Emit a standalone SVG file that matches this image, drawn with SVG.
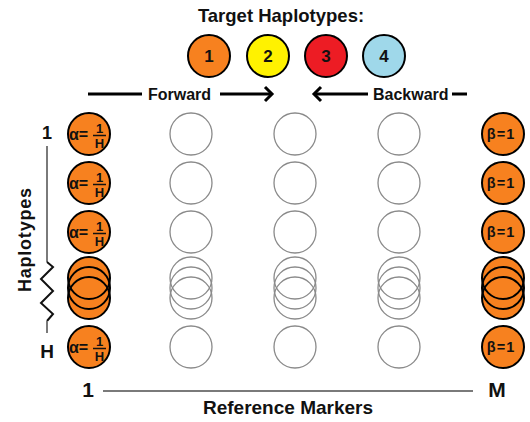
<svg xmlns="http://www.w3.org/2000/svg" width="530" height="422" viewBox="0 0 530 422">
  <style>
    text { font-family: "Liberation Sans", Arial, sans-serif; font-weight: bold; fill: #111; }
    .lbl { font-size: 16px; }
    .num { font-size: 17px; text-anchor: middle; }
    .ax { text-anchor: middle; }
    .hap { fill: #F7811F; stroke: #000; stroke-width: 2; }
    .fillonly { fill: #F7811F; stroke: none; }
    .ringonly { fill: none; stroke: #000; stroke-width: 2; }
    .empty { fill: none; stroke: #8a8a8a; stroke-width: 1.3; }
    .arrow { stroke: #000; stroke-width: 3; fill: none; stroke-linecap: butt; }
    .axis { stroke: #7a7a7a; stroke-width: 2; fill: none; }
    .a { font-size: 16px; }
    .f { font-size: 13px; text-anchor: middle; }
    .b { font-size: 14.5px; text-anchor: middle; letter-spacing: 1px; }
  </style>
  <defs>
    <g id="alpha">
      <circle class="hap" r="21"/>
      <text class="a" x="-20" y="6">α=</text>
      <text class="f" x="10.5" y="-1">1</text>
      <line x1="4" y1="1.5" x2="17" y2="1.5" stroke="#111" stroke-width="1.5"/>
      <text class="f" x="10.5" y="13.5">H</text>
    </g>
    <g id="beta">
      <circle class="hap" r="21"/>
      <text class="b" x="-2" y="5">β=1</text>
    </g>
    <g id="stackFilled">
      <circle class="fillonly" cy="-10" r="21"/>
      <circle class="fillonly" cy="0" r="21"/>
      <circle class="fillonly" cy="10" r="21"/>
      <circle class="ringonly" cy="-10" r="21"/>
      <circle class="ringonly" cy="0" r="21"/>
      <circle class="ringonly" cy="10" r="21"/>
    </g>
    <g id="stackEmpty">
      <circle class="empty" cy="-10" r="21"/>
      <circle class="empty" cy="0" r="21"/>
      <circle class="empty" cy="10" r="21"/>
    </g>
    <circle id="ring" class="empty" r="21"/>
  </defs>

  <!-- title and target haplotypes -->
  <text x="281" y="22" font-size="18.5" text-anchor="middle">Target Haplotypes:</text>
  <g id="target1"><circle cx="209" cy="56" r="21" fill="#F7811F" stroke="#000" stroke-width="2"/><text class="num" x="209" y="62">1</text></g>
  <g id="target2"><circle cx="268" cy="56" r="21" fill="#FFF200" stroke="#000" stroke-width="2"/><text class="num" x="268" y="62">2</text></g>
  <g id="target3"><circle cx="326" cy="56" r="21" fill="#ED1C24" stroke="#000" stroke-width="2"/><text class="num" x="326" y="62">3</text></g>
  <g id="target4"><circle cx="384" cy="56" r="21" fill="#9FD8EA" stroke="#000" stroke-width="2"/><text class="num" x="384" y="62">4</text></g>

  <!-- direction arrows -->
  <g id="connectors">
    <line class="arrow" x1="88" y1="94" x2="142" y2="94"/>
    <line class="arrow" x1="220" y1="94" x2="272" y2="94"/>
    <polyline class="arrow" points="265,87 272,94 265,101"/>
    <polyline class="arrow" points="321,87 314,94 321,101"/>
    <line class="arrow" x1="314" y1="94" x2="368" y2="94"/>
    <line class="arrow" x1="452" y1="94" x2="467" y2="94"/>

    <!-- haplotype axis -->
    <line class="axis" x1="47" y1="146" x2="47" y2="262"/>
    <polyline points="47,262 53,267 41,279 53,291 41,303 53,314 47,321" fill="none" stroke="#111" stroke-width="2"/>
    <line class="axis" x1="47" y1="321" x2="47" y2="333"/>

    <!-- marker axis -->
    <line class="axis" x1="103" y1="391" x2="473" y2="391" stroke-width="2.5"/>
  </g>
  <text class="lbl" x="148" y="100">Forward</text>
  <text class="lbl" x="373" y="100">Backward</text>

  <!-- axis labels -->
  <text class="ax" x="47" y="139" font-size="18">1</text>
  <text class="ax" x="47" y="358" font-size="19">H</text>
  <text x="0" y="0" font-size="18" text-anchor="middle" textLength="104" transform="translate(31,240) rotate(-90)">Haplotypes</text>
  <text class="ax" x="88" y="397" font-size="21">1</text>
  <text class="ax" x="497" y="397" font-size="21">M</text>
  <text class="ax" x="288" y="414" font-size="19">Reference Markers</text>

  <!-- forward column (alpha) -->
  <g id="alpha-1"><use href="#alpha" x="89" y="134"/></g>
  <g id="alpha-2"><use href="#alpha" x="89" y="183"/></g>
  <g id="alpha-3"><use href="#alpha" x="89" y="232"/></g>
  <g id="alpha-stack"><use href="#stackFilled" x="89" y="288"/></g>
  <g id="alpha-H"><use href="#alpha" x="89" y="347"/></g>

  <!-- interior markers -->
  <g id="col-2">
    <use href="#ring" x="191" y="134"/><use href="#ring" x="191" y="183"/><use href="#ring" x="191" y="232"/>
    <use href="#stackEmpty" x="191" y="288"/><use href="#ring" x="191" y="347"/>
  </g>
  <g id="col-3">
    <use href="#ring" x="295" y="134"/><use href="#ring" x="295" y="183"/><use href="#ring" x="295" y="232"/>
    <use href="#stackEmpty" x="295" y="288"/><use href="#ring" x="295" y="347"/>
  </g>
  <g id="col-4">
    <use href="#ring" x="399" y="134"/><use href="#ring" x="399" y="183"/><use href="#ring" x="399" y="232"/>
    <use href="#stackEmpty" x="399" y="288"/><use href="#ring" x="399" y="347"/>
  </g>

  <!-- backward column (beta) -->
  <g id="beta-1"><use href="#beta" x="503" y="134"/></g>
  <g id="beta-2"><use href="#beta" x="503" y="183"/></g>
  <g id="beta-3"><use href="#beta" x="503" y="232"/></g>
  <g id="beta-stack"><use href="#stackFilled" x="503" y="288"/></g>
  <g id="beta-H"><use href="#beta" x="503" y="347"/></g>
</svg>
